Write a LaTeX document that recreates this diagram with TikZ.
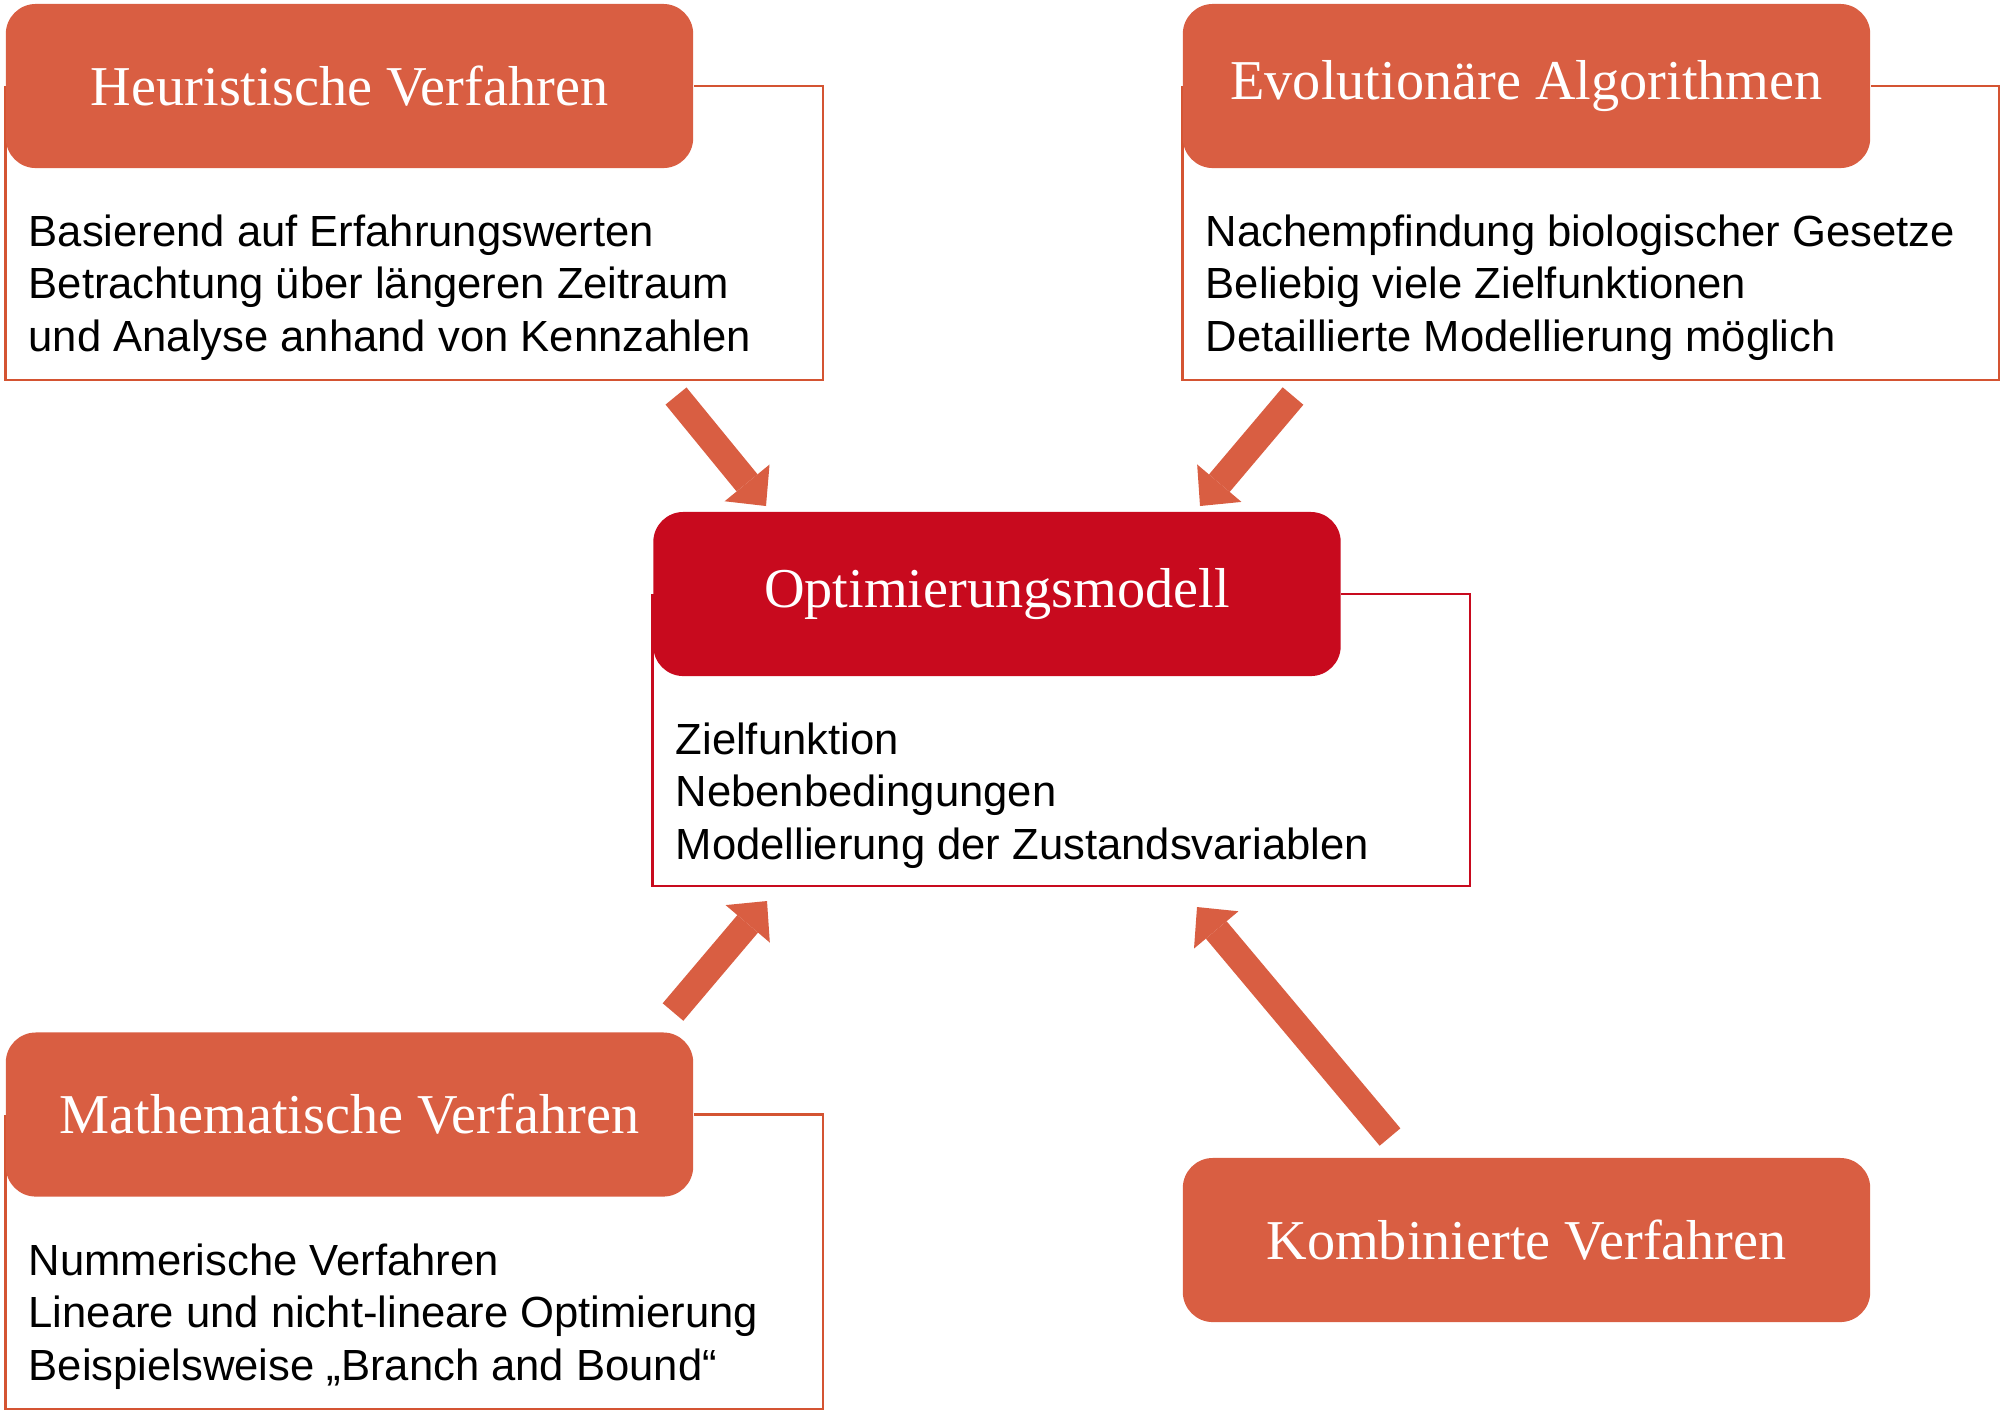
\documentclass[tikz,border=0pt]{standalone}
\usepackage{fontspec}
\setmainfont{Liberation Serif}
\newfontfamily\listfont{Liberation Sans}
\usetikzlibrary{arrows.meta,backgrounds}
\definecolor{orangerot}{RGB}{217,94,66}
\definecolor{linienrot}{RGB}{212,84,50}
\definecolor{dunkelrot}{RGB}{200,10,30}
\begin{document}
\begin{tikzpicture}[x=0.01cm,y=-0.01cm,
    titel/.style={fill=orangerot,rounded corners=0.3cm,minimum width=6.87cm,minimum height=1.64cm,inner sep=0pt,text=white,font=\fontsize{16}{19}\selectfont},
    liste/.style={anchor=base west,align=left,inner sep=0pt,font=\listfont\fontsize{12.4}{14.8}\selectfont},
    rahmen/.style={draw=linienrot,line width=0.8pt},
    pfeil/.style={draw=orangerot,line width=7.7pt,-{Triangle[width=16.5pt,length=8.5pt,line width=0pt]}}]
    \useasboundingbox (0,0) rectangle (2001,1417);
    \node[titel] (heur) at (349.5,86) {Heuristische Verfahren};
    \node[titel] (evol) at (1526.5,86) {Evolutionäre Algorithmen};
    \node[titel,fill=dunkelrot] (opt) at (997,594) {Optimierungsmodell};
    \node[titel] (math) at (349.5,1114.5) {Mathematische Verfahren};
    \node[titel] (komb) at (1526.5,1240) {Kombinierte Verfahren};
    \node[liste] (heurtext) at (28,351) {Basierend auf Erfahrungswerten\\Betrachtung über längeren Zeitraum\\und Analyse anhand von Kennzahlen};
    \node[liste] (evoltext) at (1205,351) {Nachempfindung biologischer Gesetze\\Beliebig viele Zielfunktionen\\Detaillierte Modellierung möglich};
    \node[liste] (opttext) at (675,859) {Zielfunktion\\Nebenbedingungen\\Modellierung der Zustandsvariablen};
    \node[liste] (mathtext) at (28,1380) {Nummerische Verfahren\\Lineare und nicht-lineare Optimierung\\Beispielsweise „Branch and Bound“};
    \begin{scope}[on background layer]
        \draw[rahmen] (heur.east) -| (823,380) -| (heur.west);
        \draw[rahmen] (evol.east) -| (1999,380) -| (evol.west);
        \draw[rahmen,draw=dunkelrot] (opt.east) -| (1470,886) -| (opt.west);
        \draw[rahmen] (math.east) -| (823,1409) -| (math.west);
    \end{scope}
    \coordinate (h1) at (676,396); \coordinate (h2) at (766,506);
    \coordinate (e1) at (1293,396); \coordinate (e2) at (1200,506);
    \coordinate (m1) at (673,1012); \coordinate (m2) at (767,901);
    \coordinate (k1) at (1390,1137); \coordinate (k2) at (1197,907);
    \draw[pfeil] (h1) -- (h2);
    \draw[pfeil] (e1) -- (e2);
    \draw[pfeil] (m1) -- (m2);
    \draw[pfeil] (k1) -- (k2);
\end{tikzpicture}
\end{document}
